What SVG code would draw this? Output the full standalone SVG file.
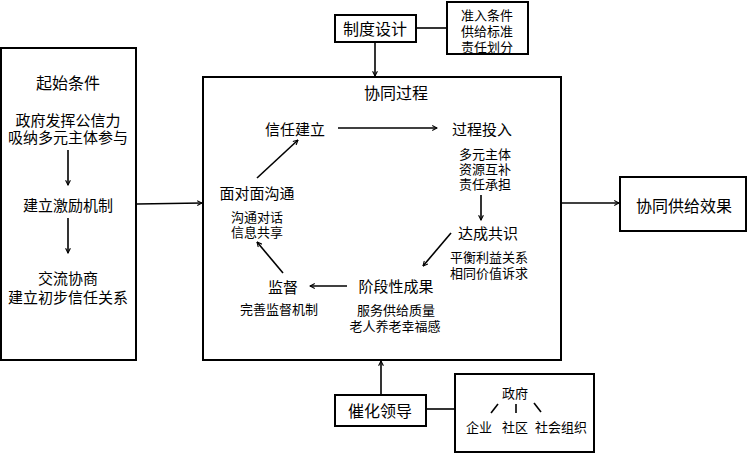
<svg xmlns="http://www.w3.org/2000/svg" width="748" height="456" viewBox="0 0 748 456">
<defs>
<style>
text{font-family:"Noto Sans CJK SC","Noto Sans",sans-serif;fill:#000;text-anchor:middle;dominant-baseline:central}
.t16{font-size:16px}
.t15{font-size:15px}
.t13{font-size:13px}
.box{fill:#fff;stroke:#000;stroke-width:2}
.ln{fill:none;stroke:#000;stroke-width:1.6}
.arr{fill:none;stroke:#000;stroke-width:1.6;marker-end:url(#ah)}
</style>
<marker id="ah" viewBox="0 0 10 10" refX="9" refY="5" markerWidth="6" markerHeight="6" orient="auto" markerUnits="userSpaceOnUse">
<polyline points="1,1 9,5 1,9" fill="none" stroke="#000" stroke-width="1.8"/>
</marker>
</defs>
<rect width="748" height="456" fill="#fff"/>
<g id="start">
<rect class="box" x="1" y="48" width="135" height="312"/>
<text class="t16" x="68" y="82">起始条件</text>
<text class="t15" x="68" y="119"><tspan x="68" y="119">政府发挥公信力</tspan><tspan x="68" y="136">吸纳多元主体参与</tspan></text>
<text class="t15" x="68" y="204">建立激励机制</text>
<text class="t15" x="68" y="277"><tspan x="68" y="277">交流协商</tspan><tspan x="68" y="296">建立初步信任关系</tspan></text>
</g>
<g id="process">
<rect class="box" x="203" y="77" width="358" height="283"/>
<text class="t16" x="396" y="92">协同过程</text>
</g>
<g id="trust"><text class="t15" x="295" y="128">信任建立</text></g>
<g id="input">
<text class="t15" x="482" y="128">过程投入</text>
<text class="t13" x="485" y="153"><tspan x="485" y="153">多元主体</tspan><tspan x="485" y="168">资源互补</tspan><tspan x="485" y="183">责任承担</tspan></text>
</g>
<g id="consensus">
<text class="t15" x="488" y="232">达成共识</text>
<text class="t13" x="489" y="256"><tspan x="489" y="256">平衡利益关系</tspan><tspan x="489" y="272">相同价值诉求</tspan></text>
</g>
<g id="result">
<text class="t15" x="396" y="285">阶段性成果</text>
<text class="t13" x="396" y="309"><tspan x="396" y="309">服务供给质量</tspan><tspan x="395" y="325">老人养老幸福感</tspan></text>
</g>
<g id="supervise">
<text class="t15" x="283" y="286">监督</text>
<text class="t13" x="279" y="308">完善监督机制</text>
</g>
<g id="communicate">
<text class="t15" x="257" y="192">面对面沟通</text>
<text class="t13" x="257" y="216"><tspan x="257" y="216">沟通对话</tspan><tspan x="257" y="231">信息共享</tspan></text>
</g>
<g id="institution">
<rect class="box" x="335" y="15" width="81" height="27"/>
<text class="t16" x="375" y="28">制度设计</text>
</g>
<g id="institution-detail">
<rect class="box" x="447" y="2" width="81" height="52"/>
<text class="t13" x="487" y="14"><tspan x="487" y="14">准入条件</tspan><tspan x="487" y="30">供给标准</tspan><tspan x="487" y="46">责任划分</tspan></text>
</g>
<g id="effect">
<rect class="box" x="620" y="177" width="126" height="54"/>
<text class="t16" x="684" y="205">协同供给效果</text>
</g>
<g id="leadership">
<rect class="box" x="335" y="395" width="91" height="31"/>
<text class="t16" x="380" y="410">催化领导</text>
</g>
<g id="leadership-detail">
<rect class="box" x="455" y="374" width="139" height="78"/>
<text class="t13" x="515" y="392">政府</text>
<text class="t13" x="479" y="426">企业</text>
<text class="t13" x="515" y="426">社区</text>
<text class="t13" x="561" y="426">社会组织</text>
<line class="ln" x1="491" y1="413" x2="498" y2="404" stroke-width="2"/>
<line class="ln" x1="516" y1="404" x2="516" y2="413" stroke-width="2"/>
<line class="ln" x1="534" y1="403" x2="541" y2="412" stroke-width="2"/>
</g>
<g id="connectors">
<line class="arr" x1="68" y1="150" x2="68" y2="185"/>
<line class="arr" x1="68" y1="218" x2="68" y2="253"/>
<line class="arr" x1="137" y1="204" x2="202" y2="203"/>
<line class="arr" x1="562" y1="203" x2="619" y2="203"/>
<line class="arr" x1="375" y1="42" x2="375" y2="76"/>
<line class="ln" x1="416" y1="28" x2="447" y2="28"/>
<line class="arr" x1="381" y1="395" x2="381" y2="361"/>
<line class="ln" x1="426" y1="409" x2="455" y2="409"/>
<line class="arr" x1="338" y1="128" x2="437" y2="128"/>
<line class="arr" x1="481" y1="195" x2="481" y2="220"/>
<line class="arr" x1="451" y1="233" x2="423" y2="266"/>
<line class="arr" x1="347" y1="286" x2="310" y2="286"/>
<line class="arr" x1="283" y1="273" x2="257" y2="242"/>
<line class="arr" x1="257" y1="178" x2="298" y2="140"/>
</g>
</svg>
